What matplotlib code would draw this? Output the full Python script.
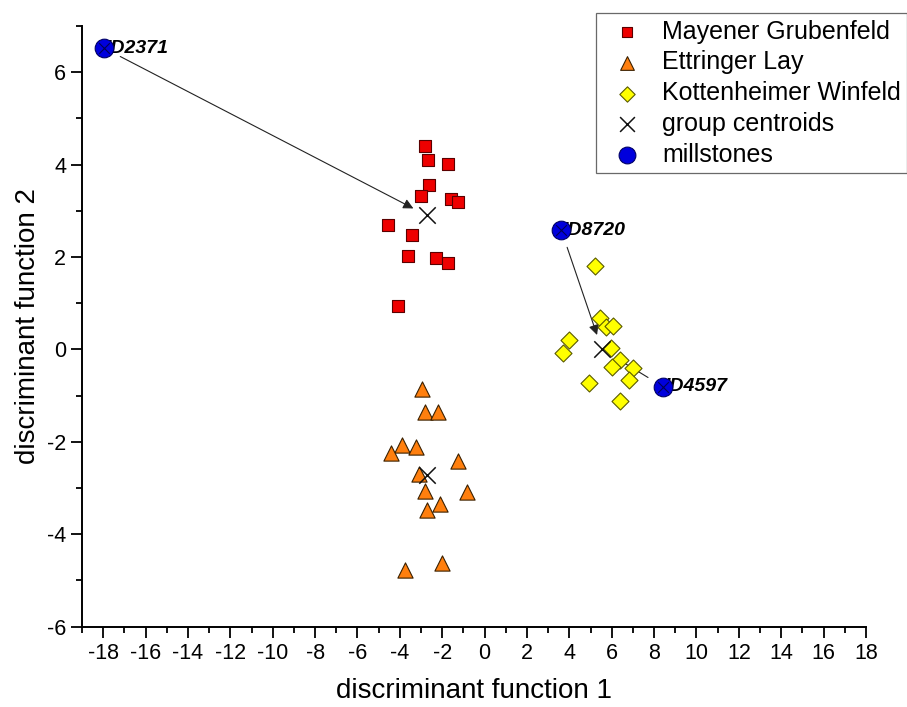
import matplotlib.pyplot as plt

plt.rcParams['font.family'] = ['Liberation Sans', 'DejaVu Sans']
plt.rcParams['axes.unicode_minus'] = False

# discriminant scores
mayen_x = [-2.83, -2.69, -1.75, -2.64, -3.00, -1.58, -1.27, -4.56, -3.42, -3.61, -2.31, -1.73, -4.08]
mayen_y = [4.40, 4.11, 4.02, 3.55, 3.33, 3.25, 3.19, 2.70, 2.47, 2.02, 1.99, 1.87, 0.94]

ettr_x = [-2.94, -2.80, -2.22, -3.90, -3.22, -4.42, -1.27, -3.11, -2.80, -0.83, -2.12, -2.72, -2.01, -3.77]
ettr_y = [-0.85, -1.35, -1.35, -2.07, -2.12, -2.24, -2.41, -2.69, -3.06, -3.08, -3.35, -3.48, -4.62, -4.78]

kott_x = [5.22, 5.46, 5.74, 6.06, 4.00, 3.68, 5.98, 6.37, 6.01, 7.00, 6.83, 4.91, 6.40]
kott_y = [1.81, 0.67, 0.49, 0.50, 0.20, -0.08, 0.04, -0.23, -0.38, -0.41, -0.67, -0.72, -1.11]

centroid_x = [-2.72, -2.72, 5.54]
centroid_y = [2.90, -2.71, 0.00]

mill_names = ['ID2371', 'ID8720', 'ID4597']
mill_x = [-17.95, 3.62, 8.44]
mill_y = [6.52, 2.58, -0.81]
mill_group = [0, 2, 2]  # centroid each millstone is assigned to

fig = plt.figure(figsize=(9.07, 7.07), dpi=100)
ax = fig.add_axes([0.0904, 0.1136, 0.8644, 0.8496])

ax.scatter(mayen_x, mayen_y, marker='s', s=75, color='#ee0000', edgecolors='#5a0000',
           linewidths=0.8, label='Mayener Grubenfeld', zorder=3)
ax.scatter(ettr_x, ettr_y, marker='^', s=120, color='#ff7f0e', edgecolors='#3a2000',
           linewidths=0.8, label='Ettringer Lay', zorder=3)
ax.scatter(kott_x, kott_y, marker='D', s=75, color='#ffff00', edgecolors='#5a5a00',
           linewidths=0.8, label='Kottenheimer Winfeld', zorder=3)
ax.scatter(centroid_x, centroid_y, marker='x', s=140, color='#111111',
           linewidths=1.1, label='group centroids', zorder=4)

# arrows from each millstone to the centroid of its group
for name, mx, my, g in zip(mill_names, mill_x, mill_y, mill_group):
    ax.annotate('', xy=(centroid_x[g], centroid_y[g]), xytext=(mx, my),
                arrowprops=dict(arrowstyle='-|>', color='#222222', lw=0.8,
                                mutation_scale=15, shrinkA=13, shrinkB=11),
                zorder=2)
    ax.annotate(name, xy=(mx, my), xytext=(1, 0), textcoords='offset points',
                fontsize=14, fontweight='bold', fontstyle='italic',
                va='center', ha='left', zorder=4)

ax.scatter(mill_x, mill_y, marker='o', s=180, color='#0000dd', edgecolors='#000066',
           linewidths=0.8, label='millstones', zorder=5)
ax.scatter(mill_x, mill_y, marker='x', s=60, color='#000055', linewidths=0.8, zorder=6)

ax.set_xlim(-19, 18)
ax.set_ylim(-6, 7)
ax.set_xticks(range(-18, 19, 2))
ax.set_xticks(range(-19, 19, 2), minor=True)
ax.set_yticks(range(-6, 7, 2))
ax.set_yticks(range(-5, 8, 2), minor=True)
ax.tick_params(which='major', length=8, width=1.3, labelsize=15.5, direction='out')
ax.tick_params(which='minor', length=4.5, width=1.3, direction='out')
for side in ['top', 'right']:
    ax.spines[side].set_visible(False)
for side in ['left', 'bottom']:
    ax.spines[side].set_linewidth(1.4)

ax.set_xlabel('discriminant function 1', fontsize=20, labelpad=10)
ax.set_ylabel('discriminant function 2', fontsize=20, labelpad=4)

leg = ax.legend(loc='upper left', bbox_to_anchor=(0.657, 0.981), bbox_transform=fig.transFigure,
                fontsize=18, frameon=True, fancybox=False, edgecolor='#444444',
                labelspacing=0.27, handletextpad=0.4, borderpad=0.25, handlelength=2.0,
                markerscale=0.9, borderaxespad=0)
leg.get_frame().set_linewidth(0.9)

fig.savefig('out.png', dpi=100)
